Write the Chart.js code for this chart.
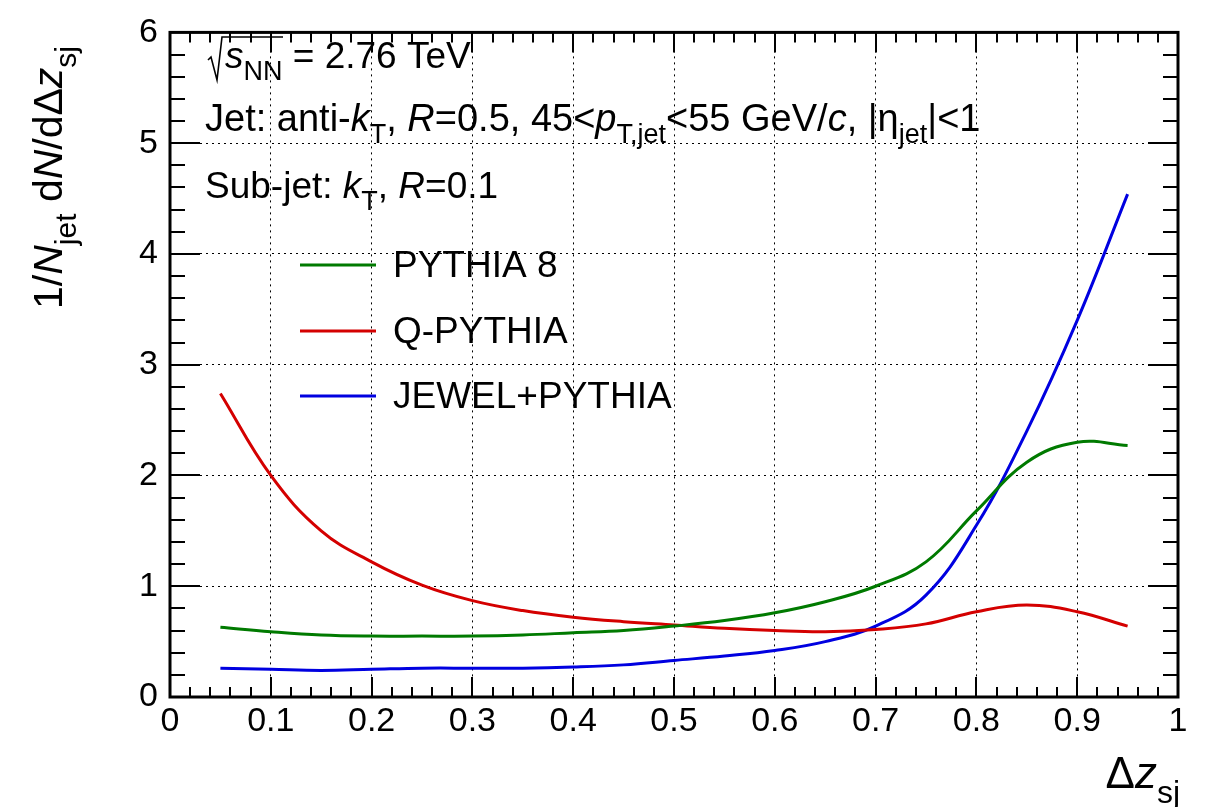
<!DOCTYPE html>
<html>
<head>
<meta charset="utf-8">
<script src="https://cdn.jsdelivr.net/npm/chart.js@4.4.0/dist/chart.umd.min.js"></script>
<style>
html, body { margin: 0; padding: 0; background: #fff; }
#wrap { width: 1208px; height: 807px; position: relative; }
</style>
</head>
<body>
<div id="wrap"><canvas id="subjetChart"></canvas></div>
<script>
// Delta z_sj distribution, 45 < pT,jet < 55 GeV/c
const dzValues = [0.05, 0.10, 0.15, 0.20, 0.25, 0.30, 0.35, 0.40, 0.45, 0.50,
                  0.55, 0.60, 0.65, 0.70, 0.75, 0.80, 0.85, 0.90, 0.95];
const pythia8 = [0.63, 0.59, 0.56, 0.55, 0.55, 0.55, 0.56, 0.58, 0.60, 0.64,
                 0.69, 0.76, 0.86, 1.00, 1.22, 1.68, 2.12, 2.30, 2.27];
const qPythia = [2.74, 2.00, 1.50, 1.22, 1.01, 0.87, 0.78, 0.72, 0.68, 0.65,
                 0.62, 0.60, 0.59, 0.61, 0.66, 0.77, 0.83, 0.77, 0.64];
const jewelPythia = [0.26, 0.25, 0.24, 0.25, 0.26, 0.26, 0.26, 0.27, 0.29, 0.33,
                     0.37, 0.42, 0.50, 0.64, 0.92, 1.55, 2.40, 3.40, 4.54];
const seriesNames = ['PYTHIA 8', 'Q-PYTHIA', 'JEWEL+PYTHIA'];
const seriesColors = ['#007a00', '#d40000', '#0000e0'];

const FONT = '"Liberation Sans", Arial, Helvetica, sans-serif';

// tiny rich-text helper: n = normal, i = italic, s = subscript
const n = t => ({ t });
const i = t => ({ t, it: true });
const s = t => ({ t, sub: true });

function drawRich(ctx, x, y, parts, size, align) {
    const fontFor = p => (p.it ? 'italic ' : '') + Math.round(p.sub ? size * 0.72 : size) + 'px ' + FONT;
    let w = 0;
    parts.forEach(p => { ctx.font = fontFor(p); w += ctx.measureText(p.t).width; });
    let cx = align === 'right' ? x - w : x;
    ctx.textAlign = 'left';
    ctx.textBaseline = 'alphabetic';
    parts.forEach(p => {
        ctx.font = fontFor(p);
        ctx.fillText(p.t, cx, y + (p.sub ? size * 0.33 : 0));
        cx += ctx.measureText(p.t).width;
    });
    return w;
}

const rootFrame = {
    id: 'rootFrame',
    afterDatasetsDraw(chart) {
        const ctx = chart.ctx;
        const a = chart.chartArea;
        const xs = chart.scales.x, ys = chart.scales.y;
        ctx.save();
        ctx.strokeStyle = '#000';
        ctx.lineWidth = 2;
        ctx.beginPath();
        // x ticks, bottom and top
        for (let k = 0; k <= 50; k++) {
            const px = Math.round(xs.getPixelForValue(k * 0.02));
            const len = k % 5 === 0 ? 20 : 10;
            ctx.moveTo(px, a.bottom); ctx.lineTo(px, a.bottom - len);
            ctx.moveTo(px, a.top); ctx.lineTo(px, a.top + len);
        }
        // y ticks, left and right
        for (let k = 0; k <= 30; k++) {
            const py = Math.round(ys.getPixelForValue(k * 0.2));
            const len = k % 5 === 0 ? 30 : 15;
            ctx.moveTo(a.left, py); ctx.lineTo(a.left + len, py);
            ctx.moveTo(a.right, py); ctx.lineTo(a.right - len, py);
        }
        ctx.stroke();
        ctx.lineWidth = 3;
        ctx.strokeRect(a.left, a.top, a.right - a.left, a.bottom - a.top);

        ctx.fillStyle = '#000';
        // sqrt(s_NN)
        ctx.lineWidth = 1.6;
        ctx.beginPath();
        ctx.moveTo(208, 60); ctx.lineTo(211, 57); ctx.lineTo(217, 80);
        ctx.lineTo(222, 37); ctx.lineTo(283, 37);
        ctx.stroke();
        drawRich(ctx, 225, 68, [i('s'), s('NN'), n(' = 2.76 TeV')], 37);
        drawRich(ctx, 205, 131, [n('Jet: anti-'), i('k'), s('T'), n(', '), i('R'), n('=0.5, 45<'),
            i('p'), s('T,jet'), n('<55 GeV/'), i('c'), n(', |η'), s('jet'), n('|<1')], 37.5);
        drawRich(ctx, 205, 198, [n('Sub-jet: '), i('k'), s('T'), n(', '), i('R'), n('=0.1')], 37);

        // legend
        const legY = [265, 331, 396];
        chart.data.datasets.forEach((ds, k) => {
            ctx.strokeStyle = ds.borderColor;
            ctx.lineWidth = 3;
            ctx.beginPath();
            ctx.moveTo(300, legY[k]); ctx.lineTo(376, legY[k]);
            ctx.stroke();
            ctx.font = '37px ' + FONT;
            ctx.textBaseline = 'middle';
            ctx.fillText(ds.label, 393, legY[k] + 2);
        });

        // axis titles
        drawRich(ctx, 1180, 788, [n('Δ'), i('z'), s('sj')], 44, 'right');
        ctx.save();
        ctx.translate(62, 309);
        ctx.rotate(-Math.PI / 2);
        drawRich(ctx, 0, 0, [n('1/'), i('N'), s('jet'), n(' d'), i('N'), n('/dΔ'), i('z'), s('sj')], 41);
        ctx.restore();
        ctx.restore();
    }
};

const toPoints = vals => vals.map((v, k) => ({ x: dzValues[k], y: v }));

new Chart(document.getElementById('subjetChart'), {
    type: 'line',
    data: {
        datasets: [pythia8, qPythia, jewelPythia].map((vals, k) => ({
            label: seriesNames[k],
            data: toPoints(vals),
            borderColor: seriesColors[k],
            borderWidth: 3,
            pointRadius: 0,
            fill: false,
            tension: 0.4
        }))
    },
    options: {
        responsive: true,
        maintainAspectRatio: false,
        animation: false,
        layout: { padding: { left: 0, top: 22, right: 30, bottom: 0 } },
        plugins: { legend: { display: false }, tooltip: { enabled: false } },
        scales: {
            x: {
                type: 'linear',
                min: 0, max: 1,
                afterFit: sc => { sc.height = 110; },
                ticks: {
                    stepSize: 0.1,
                    autoSkip: false,
                    maxRotation: 0,
                    padding: 4,
                    color: '#000',
                    font: { family: FONT, size: 34 },
                    callback: v => String(+v.toFixed(2))
                },
                grid: { color: '#000', lineWidth: 1, drawTicks: false },
                border: { display: false, dash: [2, 4] }
            },
            y: {
                min: 0, max: 6,
                afterFit: sc => { sc.width = 170; },
                ticks: {
                    stepSize: 1,
                    padding: 12,
                    color: '#000',
                    font: { family: FONT, size: 34 }
                },
                grid: { color: '#000', lineWidth: 1, drawTicks: false },
                border: { display: false, dash: [2, 4] }
            }
        }
    },
    plugins: [rootFrame]
});
</script>
</body>
</html>
